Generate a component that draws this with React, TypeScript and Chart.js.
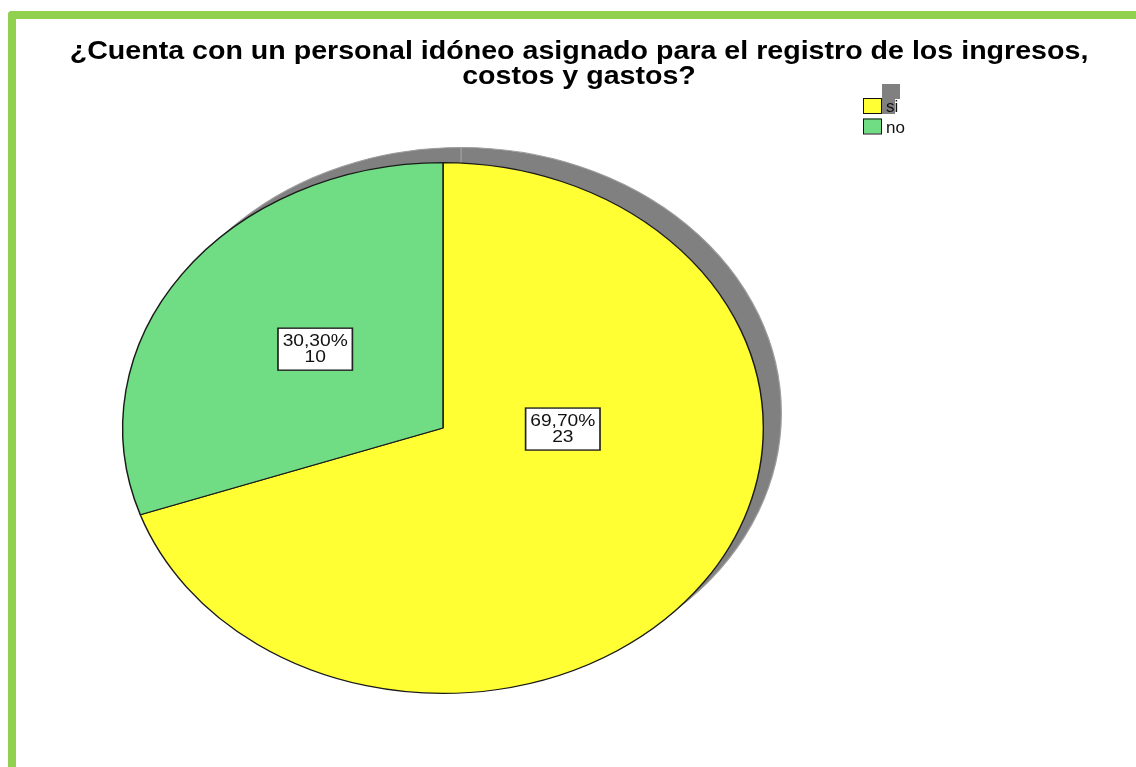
import React, { useEffect, useRef } from "react";
import { Chart, registerables } from "chart.js";

Chart.register(...registerables);

const titleLines = [
  "¿Cuenta con un personal idóneo asignado para el registro de los ingresos,",
  "costos y gastos?",
];
const categories = ["si", "no"];
const counts = [23, 10];
const sliceColors = ["#FFFF33", "#70DC84"];

const total = counts.reduce((a, b) => a + b, 0);
const percentLabels = counts.map((c) => ((c / total) * 100).toFixed(2).replace(".", ",") + "%");

const FONT = '"Liberation Sans", Arial, sans-serif';

const ellipsePlugin = {
  id: "ellipsePie",
  beforeDatasetsDraw(chart: any, _args: any, opts: any) {
    const meta = chart.getDatasetMeta(0);
    const a0 = meta.data[0];
    if (!a0) return;
    const cx = a0.x;
    const cy = a0.y;
    const ctx = chart.ctx;
    ctx.save();
    ctx.translate(cx, cy);
    ctx.scale(opts.sx, 1);
    ctx.translate(-cx, -cy);
    // shadow
    ctx.save();
    ctx.translate(opts.shadowDx / opts.sx, opts.shadowDy);
    meta.data.forEach((arc: any) => {
      const p = arc.getProps(["x", "y", "startAngle", "endAngle", "outerRadius"], true);
      ctx.beginPath();
      ctx.moveTo(p.x, p.y);
      ctx.arc(p.x, p.y, p.outerRadius, p.startAngle, p.endAngle);
      ctx.closePath();
      ctx.fillStyle = opts.shadowColor;
      ctx.fill();
      ctx.lineWidth = 1;
      ctx.strokeStyle = "#9c9c9c";
      ctx.stroke();
    });
    ctx.restore();
  },
  afterDatasetsDraw(chart: any) {
    chart.ctx.restore();
  },
};

const decorPlugin = {
  id: "decor",
  afterDraw(chart: any, _args: any, opts: any) {
    const ctx = chart.ctx;
    const meta = chart.getDatasetMeta(0);
    const a0 = meta.data[0];
    const cx = a0.x;
    const cy = a0.y;
    const ry = a0.outerRadius;
    const rx = ry * opts.sx;

    // title
    ctx.save();
    ctx.fillStyle = "#000";
    ctx.font = `bold 26px ${FONT}`;
    ctx.textAlign = "center";
    ctx.textBaseline = "alphabetic";
    titleLines.forEach((line, i) => {
      ctx.save();
      ctx.translate(opts.titleX, opts.titleY[i]);
      ctx.scale(opts.titleSx, 1);
      ctx.fillText(line, 0, 0);
      ctx.restore();
    });
    ctx.restore();

    // value labels
    meta.data.forEach((_arc: any, i: number) => {
      const off = opts.labelOffsets[i];
      const px = cx + off[0] * rx;
      const py = cy + off[1] * ry;
      ctx.save();
      ctx.translate(px, py);
      ctx.scale(1.2, 1);
      ctx.fillStyle = "#fff";
      ctx.fillRect(-31, -21, 62, 42);
      ctx.lineWidth = 1.4;
      ctx.strokeStyle = "#222";
      ctx.strokeRect(-31, -21, 62, 42);
      ctx.fillStyle = "#111";
      ctx.font = `16px ${FONT}`;
      ctx.textAlign = "center";
      ctx.textBaseline = "alphabetic";
      ctx.fillText(percentLabels[i], 0, -3);
      ctx.fillText(String(counts[i]), 0, 13);
      ctx.restore();
    });

    // legend
    ctx.save();
    const lx = opts.legendX;
    const ly = opts.legendY;
    ctx.fillStyle = "#808080";
    ctx.fillRect(lx + 19, ly - 14, 18, 15);
    ctx.fillRect(lx + 19, ly, 13, 16);
    categories.forEach((cat, i) => {
      const y = ly + i * 20.5;
      ctx.fillStyle = sliceColors[i];
      ctx.fillRect(lx, y, 18, 15);
      ctx.lineWidth = 1;
      ctx.strokeStyle = "#111";
      ctx.strokeRect(lx + 0.5, y + 0.5, 18, 15);
      ctx.fillStyle = "#111";
      ctx.font = `17px ${FONT}`;
      ctx.textAlign = "left";
      ctx.textBaseline = "alphabetic";
      ctx.fillText(cat, lx + 23, y + 14);
    });
    ctx.restore();
  },
};

export default function App() {
  const canvasRef = useRef<HTMLCanvasElement | null>(null);

  useEffect(() => {
    if (!canvasRef.current) return;
    const chart = new Chart(canvasRef.current, {
      type: "pie",
      data: {
        labels: categories,
        datasets: [
          {
            data: counts,
            backgroundColor: sliceColors,
            borderColor: "#1a1a1a",
            borderWidth: 1.2,
            clip: false,
          } as any,
        ],
      },
      options: {
        responsive: false,
        maintainAspectRatio: false,
        animation: false,
        events: [],
        layout: { padding: { left: 177, right: 427, top: 162, bottom: 73 } },
        plugins: {
          legend: { display: false },
          tooltip: { enabled: false },
          title: { display: false },
          ellipsePie: { sx: 1.207, shadowDx: 18, shadowDy: -15, shadowColor: "#808080" },
          decor: {
            sx: 1.207,
            titleX: 579,
            titleY: [59, 84],
            titleSx: 1.1,
            labelOffsets: [
              [0.374, 0.004],
              [-0.399, -0.297],
            ],
            legendX: 863,
            legendY: 98,
          },
        } as any,
      },
      plugins: [ellipsePlugin, decorPlugin],
    });
    return () => chart.destroy();
  }, []);

  return (
    <div style={{ position: "absolute", left: 0, top: 0, width: 1136, height: 767, overflow: "hidden", background: "#fff" }}>
      <div
        style={{
          position: "absolute",
          left: 8,
          top: 11,
          width: 1128,
          height: 756,
          boxSizing: "border-box",
          borderLeft: "8px solid #92D050",
          borderTop: "8px solid #92D050",
          borderTopLeftRadius: 4,
        }}
      />
      <canvas ref={canvasRef} width={1136} height={767} style={{ position: "absolute", left: 0, top: 0 }} />
    </div>
  );
}
